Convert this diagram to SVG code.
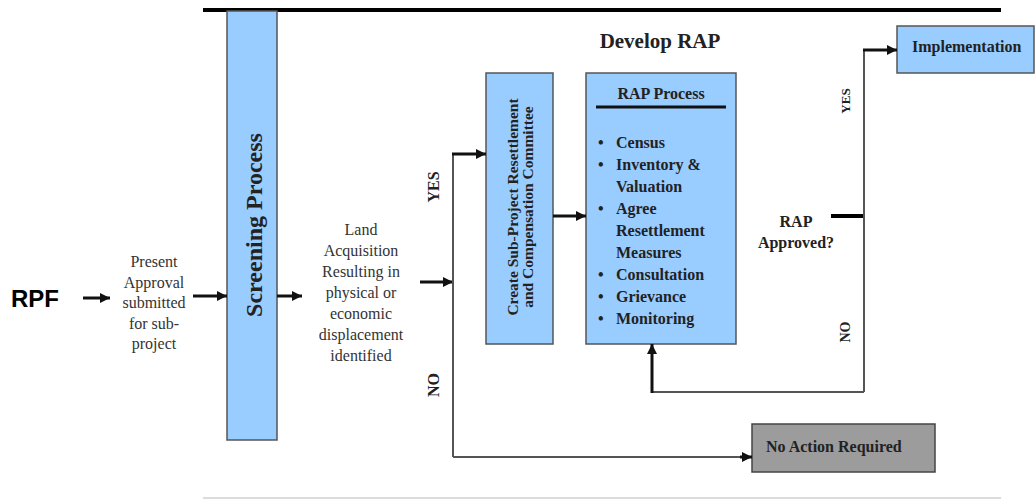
<svg xmlns="http://www.w3.org/2000/svg" width="1036" height="501" viewBox="0 0 1036 501">
<style>
  .box { fill: #99ccff; stroke: #555555; stroke-width: 1.5; }
  .grey { fill: #9c9c9c; stroke: #444444; stroke-width: 1.5; }
  .t { font-family: "Liberation Serif", "Times New Roman", serif; fill: #222222; }
  .b { font-weight: bold; }
  .n { font-family: "Liberation Serif", "Times New Roman", serif; fill: #333333; font-size: 16px; text-anchor: middle; }
  .arr { stroke: #111111; stroke-width: 3; fill: none; }
  .ln { stroke: #555555; stroke-width: 2; fill: none; }
</style>
<defs>
  <marker id="ah" markerUnits="userSpaceOnUse" markerWidth="12" markerHeight="12" refX="10" refY="6" orient="auto">
    <path d="M0,1 L10,6 L0,11 Z" fill="#111111"/>
  </marker>
</defs>
<rect width="1036" height="501" fill="#ffffff"/>

<!-- frame lines -->
<line x1="203" y1="10" x2="1001" y2="10" stroke="#000" stroke-width="4"/>
<line x1="203" y1="498" x2="1001" y2="498" stroke="#d0d0d0" stroke-width="1.5"/>

<g id="rpf">
  <text x="11" y="307" font-family="Liberation Sans, Arial, sans-serif" font-size="24" font-weight="bold" fill="#000">RPF</text>
</g>

<g id="present">
  <text class="n"><tspan x="154" y="267">Present</tspan><tspan x="154" y="288">Approval</tspan><tspan x="154" y="308">submitted</tspan><tspan x="154" y="329">for sub-</tspan><tspan x="154" y="349">project</tspan></text>
</g>

<g id="screening">
  <rect class="box" x="227" y="11" width="50" height="429"/>
  <text class="t b" transform="translate(262,225) rotate(-90)" text-anchor="middle" font-size="24">Screening Process</text>
</g>

<g id="land">
  <text class="n"><tspan x="361" y="235">Land</tspan><tspan x="361" y="256">Acquisition</tspan><tspan x="361" y="277">Resulting in</tspan><tspan x="361" y="298">physical or</tspan><tspan x="361" y="319">economic</tspan><tspan x="361" y="340">displacement</tspan><tspan x="361" y="361">identified</tspan></text>
</g>

<g id="develop-rap-title">
  <text class="t b" x="660" y="48" text-anchor="middle" font-size="21">Develop RAP</text>
</g>

<g id="committee">
  <rect class="box" x="486" y="73" width="67" height="271"/>
  <text class="t b" font-size="15.5" text-anchor="middle" transform="translate(518,207) rotate(-90)">Create Sub-Project Resettlement</text>
  <text class="t b" font-size="15.5" text-anchor="middle" transform="translate(533,207) rotate(-90)">and Compensation Committee</text>
</g>

<g id="rap-process">
  <rect class="box" x="586" y="73" width="150" height="271"/>
  <text class="t b" x="661" y="99" text-anchor="middle" font-size="16">RAP Process</text>
  <line x1="596" y1="107" x2="726" y2="107" stroke="#111" stroke-width="3"/>
  <g class="t b" font-size="16">
    <text x="598" y="148">•</text><text x="616" y="148">Census</text>
    <text x="598" y="170">•</text><text x="616" y="170">Inventory &amp;</text>
    <text x="616" y="192">Valuation</text>
    <text x="598" y="214">•</text><text x="616" y="214">Agree</text>
    <text x="616" y="236">Resettlement</text>
    <text x="616" y="258">Measures</text>
    <text x="598" y="280">•</text><text x="616" y="280">Consultation</text>
    <text x="598" y="302">•</text><text x="616" y="302">Grievance</text>
    <text x="598" y="324">•</text><text x="616" y="324">Monitoring</text>
  </g>
</g>

<g id="rap-approved">
  <text class="t b" font-size="16" text-anchor="middle"><tspan x="796" y="227">RAP</tspan><tspan x="796" y="248">Approved?</tspan></text>
</g>

<g id="implementation">
  <rect class="box" x="897" y="26" width="137" height="47"/>
  <text class="t b" x="912" y="52" font-size="16">Implementation</text>
</g>

<g id="no-action">
  <rect class="grey" x="752" y="424" width="183" height="48"/>
  <text class="t b" x="766" y="452" font-size="16">No Action Required</text>
</g>

<g id="connectors">
  <line class="arr" x1="83" y1="298" x2="110" y2="298" marker-end="url(#ah)"/>
  <line class="arr" x1="193" y1="296" x2="227" y2="296" marker-end="url(#ah)"/>
  <line class="arr" x1="277" y1="296" x2="302" y2="296" marker-end="url(#ah)"/>
  <line class="arr" x1="420" y1="282" x2="453" y2="282" marker-end="url(#ah)"/>
  <line class="ln" x1="453" y1="153" x2="453" y2="457"/>
  <line class="arr" x1="452" y1="154" x2="486" y2="154" marker-end="url(#ah)"/>
  <path class="ln" d="M453,457 H745"/>
  <line class="arr" x1="740" y1="457" x2="752" y2="457" marker-end="url(#ah)"/>
  <line class="arr" x1="553" y1="216" x2="586" y2="216" marker-end="url(#ah)"/>
  <line x1="831" y1="216" x2="864" y2="216" stroke="#000" stroke-width="4"/>
  <line class="ln" x1="864" y1="49" x2="864" y2="392"/>
  <line class="arr" x1="863" y1="50" x2="897" y2="50" marker-end="url(#ah)"/>
  <path class="ln" d="M864,392 H652"/>
  <path class="arr" d="M652,393 V344" marker-end="url(#ah)"/>
  <text class="t b" font-size="16" text-anchor="middle" transform="translate(439,187) rotate(-90)">YES</text>
  <text class="t b" font-size="16" text-anchor="middle" transform="translate(439,385) rotate(-90)">NO</text>
  <text class="t b" font-size="13" text-anchor="middle" transform="translate(850,101) rotate(-90)">YES</text>
  <text class="t b" font-size="14" text-anchor="middle" transform="translate(850,332) rotate(-90)">NO</text>
</g>
</svg>
